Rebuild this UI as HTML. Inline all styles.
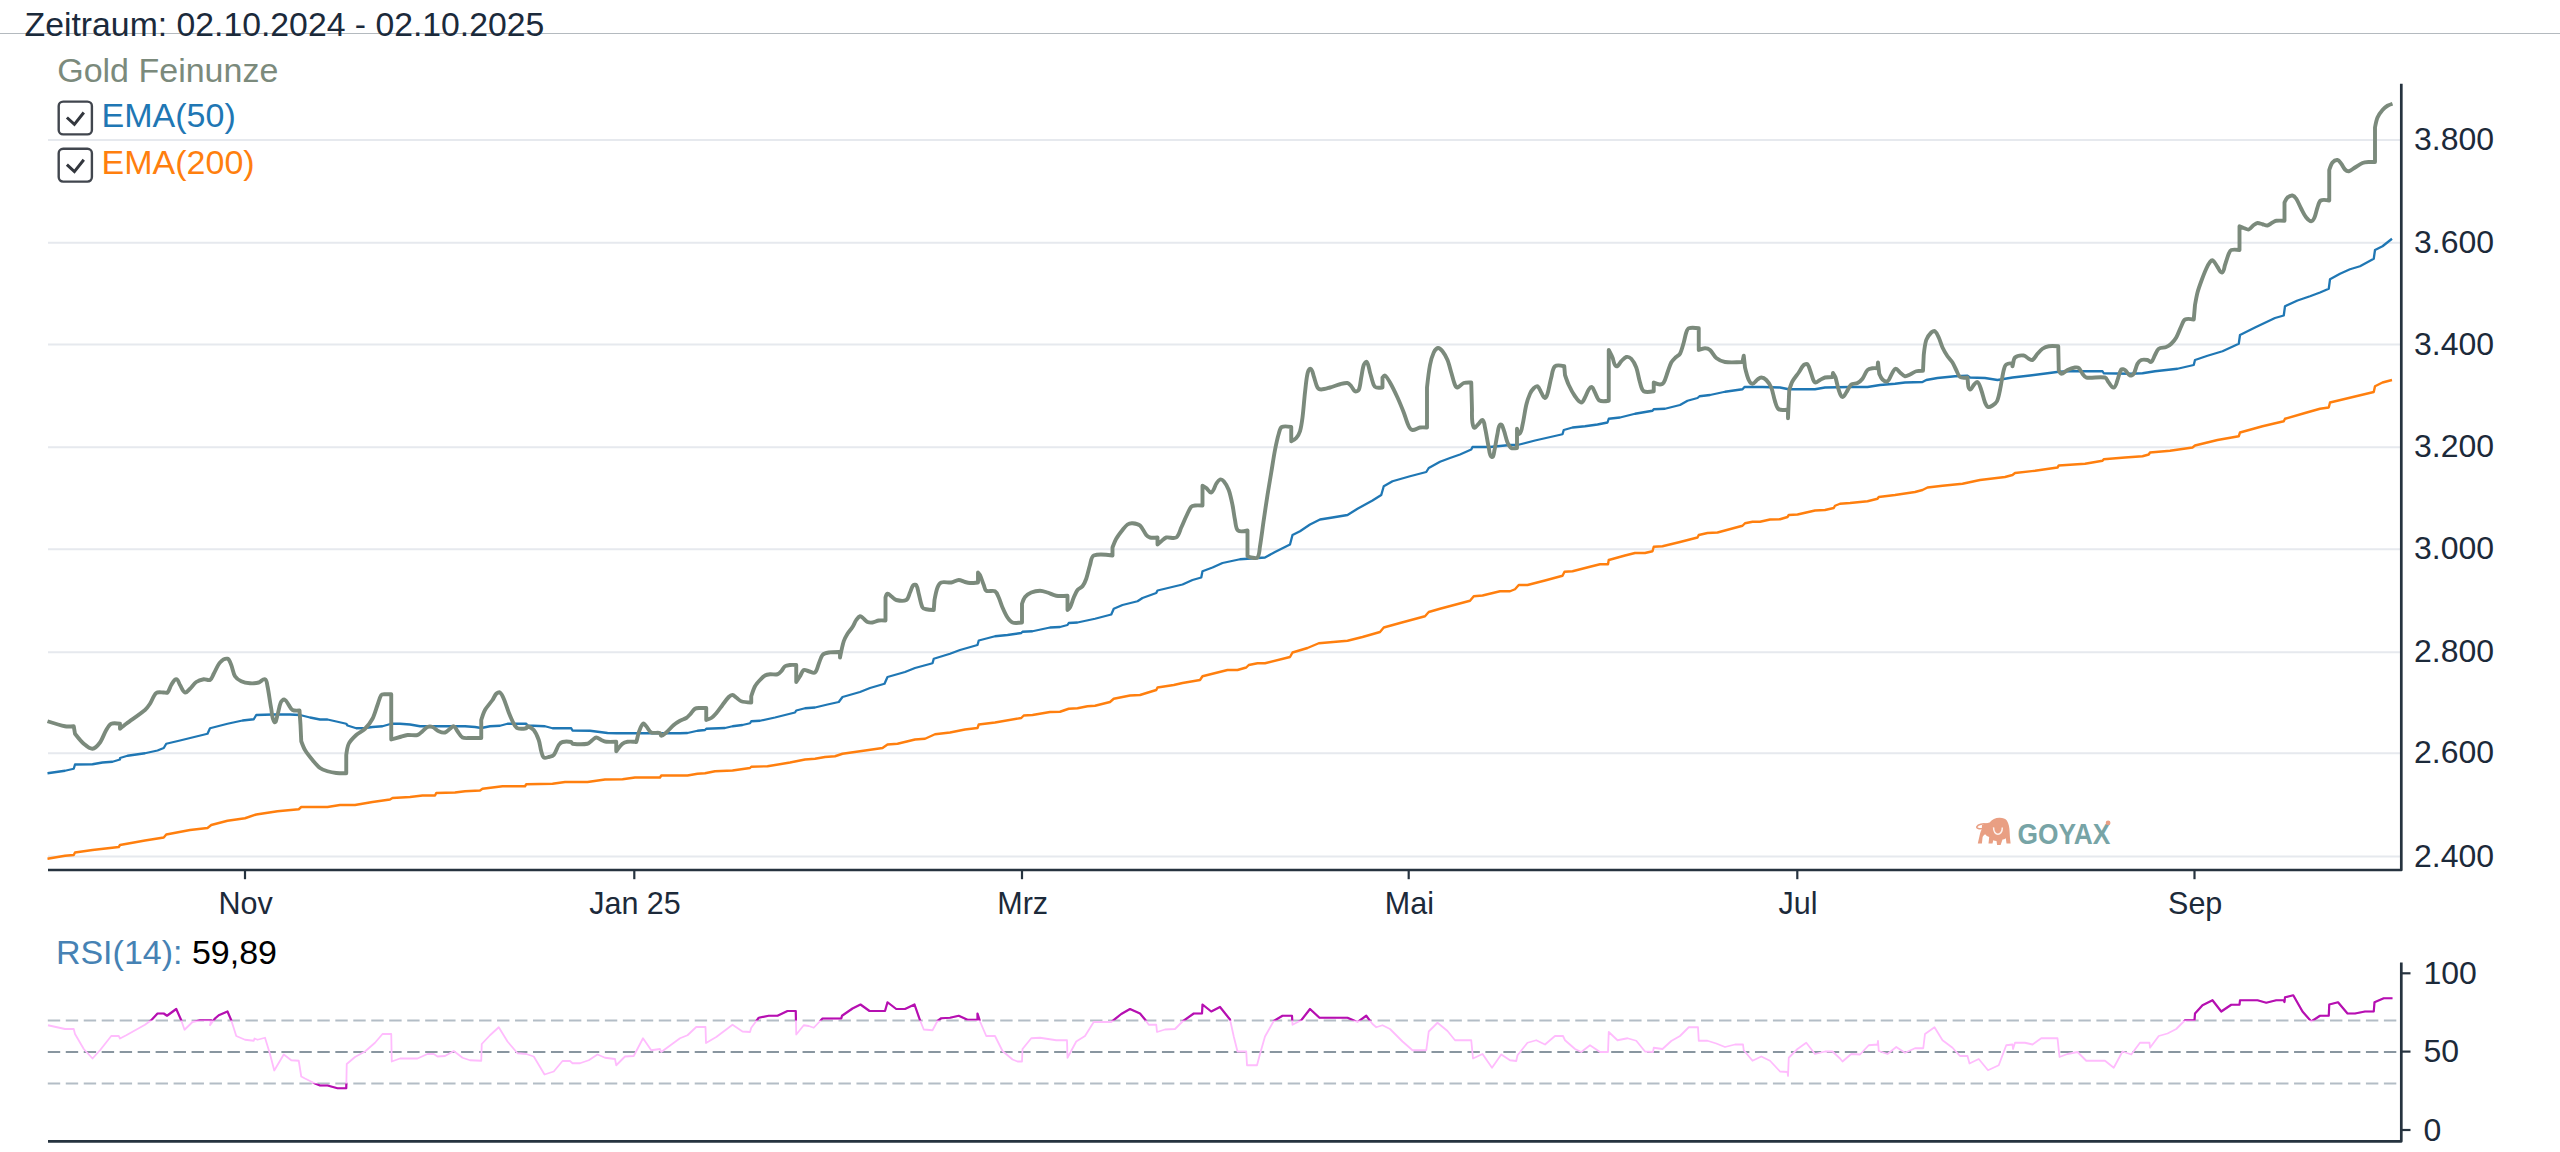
<!DOCTYPE html>
<html lang="de"><head><meta charset="utf-8"><title>Gold Feinunze Chart</title>
<style>
html,body{margin:0;padding:0;background:#fff;}
body{width:2560px;height:1152px;position:relative;overflow:hidden;font-family:"Liberation Sans",sans-serif;}
.t{position:absolute;white-space:nowrap;line-height:1;}
svg text.ax{font-family:"Liberation Sans",sans-serif;font-size:32px;fill:#1c2a3a;}
svg text.h{font-family:"Liberation Sans",sans-serif;font-size:34px;}
#hr{position:absolute;left:0;top:33px;width:2560px;height:1px;background:#b4babf;}
</style></head><body>
<div id="hr"></div>
<svg width="2560" height="1152" viewBox="0 0 2560 1152" style="position:absolute;left:0;top:0">
<defs><clipPath id="hi"><rect x="40" y="940" width="2370" height="80.4"/></clipPath><clipPath id="lo"><rect x="40" y="1083.5" width="2370" height="60"/></clipPath></defs>
<line x1="48" x2="2400" y1="139.9" y2="139.9" stroke="#e6e9ee" stroke-width="2"/>
<line x1="48" x2="2400" y1="242.8" y2="242.8" stroke="#e6e9ee" stroke-width="2"/>
<line x1="48" x2="2400" y1="344.6" y2="344.6" stroke="#e6e9ee" stroke-width="2"/>
<line x1="48" x2="2400" y1="447.3" y2="447.3" stroke="#e6e9ee" stroke-width="2"/>
<line x1="48" x2="2400" y1="549.2" y2="549.2" stroke="#e6e9ee" stroke-width="2"/>
<line x1="48" x2="2400" y1="652.2" y2="652.2" stroke="#e6e9ee" stroke-width="2"/>
<line x1="48" x2="2400" y1="753.3" y2="753.3" stroke="#e6e9ee" stroke-width="2"/>
<line x1="48" x2="2400" y1="856.5" y2="856.5" stroke="#e6e9ee" stroke-width="2"/>
<path d="M47.5,858.75 L65,855.75 L73.75,855 L75,852.5 L92.5,850 L118.75,847 L120,845 L145,840.5 L163.75,837.5 L166.25,834.5 L190,830 L207.5,828 L211.25,825 L227.5,820.75 L245,818.25 L256.25,814.5 L277.5,811.25 L298.75,809.25 L301.25,807 L327.5,807 L340,805 L355,805 L372.5,802 L390,799.5 L392.5,798 L410,797 L422.5,795.5 L435,795.5 L436.25,793 L455,792.5 L465,791.25 L480,790.5 L482.5,788.75 L502.5,786.25 L525,786.25 L526.25,784.25 L552.5,783.75 L565,782 L587.5,782 L605,779.5 L622.5,779.25 L635,777.5 L660,777.5 L661.25,775.5 L687.5,775.5 L697.5,773.75 L705,773.25 L715,771.25 L732.5,770.5 L750,768 L751.25,766.75 L767.5,766.25 L790,762.5 L805,759.5 L815,758.75 L825,757 L835,756.25 L842.5,753.75 L860,751.25 L882.5,748 L887.5,744.5 L897.5,743.75 L915,739.5 L925,738.75 L935,734.25 L950,732.5 L965,729.5 L977.5,728 L978.75,724.5 L995,722.5 L1021.25,718 L1023.75,715.5 L1032.5,715 L1050,712 L1060,711.75 L1068.75,708.75 L1077.5,708.25 L1087.5,706.25 L1095,705.75 L1110,702 L1113.75,698.75 L1130,695.5 L1140,695 L1156.25,690 L1157.5,687.5 L1173.75,685 L1182.5,683 L1200,680 L1202.5,676.25 L1227.5,670 L1237.5,670 L1246.25,667.5 L1248.75,665 L1257.5,663.25 L1265,663.25 L1290,657 L1292.5,652.5 L1307.5,648 L1318.75,643.25 L1347.5,640.75 L1362.5,637 L1380,632 L1383.75,627.5 L1400,623 L1425,616.25 L1428.75,612 L1440,608.75 L1470,600.75 L1473.75,596.25 L1482.5,595.5 L1500,591.25 L1510,591.25 L1515,589.25 L1518.75,585 L1527.5,585 L1545,580.5 L1562.5,575.75 L1564.5,571.75 L1572.5,571.25 L1590,566.75 L1600,564.25 L1608,564.25 L1608.75,560 L1625,555.5 L1635,553 L1645,553 L1652.5,551.25 L1653.75,546.75 L1662.5,546.25 L1680,542 L1697.5,537.5 L1698.75,535 L1707.5,533 L1717.5,532.5 L1742.5,525.75 L1745,523.25 L1752.5,521.75 L1760,521.75 L1770,519.5 L1780,519.25 L1787.5,517 L1788.75,515 L1797.5,514.5 L1815,510.5 L1825,510 L1833.75,508 L1835,505.75 L1840,503.75 L1850,503 L1867.5,501.25 L1877.5,498.75 L1878.75,497 L1895,495 L1915,492 L1922.5,490 L1927.5,487.5 L1942.5,485.75 L1962.5,483.75 L1980,480 L2005,477 L2012.5,475 L2015,473 L2035,470.75 L2057.5,467.5 L2058.75,465.5 L2085,463.75 L2102.5,460.75 L2103.75,459.25 L2125,457.5 L2142.5,456.25 L2148.75,454.5 L2150,452.5 L2170,450.75 L2192.5,447.5 L2195,445.5 L2217.5,440 L2238.75,436.25 L2240,432.5 L2262.5,426.25 L2283.75,421.25 L2285,418.75 L2305,413 L2320,408.75 L2328.75,407.5 L2330,402.5 L2373.75,392 L2375,386.25 L2382.5,382.5 L2392,380" fill="none" stroke="#ff7f0e" stroke-width="2.4" stroke-linejoin="round"/>
<path d="M47.5,773.25 L65,770.75 L73.75,768.75 L75,764.5 L92.5,764.25 L102.5,762.5 L112.5,761.75 L120,759.5 L120,758 L127.5,755.75 L145,753.25 L157.5,750.5 L163.75,748 L166.25,743.75 L180,740.5 L207.5,733.75 L210,728.25 L227.5,723.75 L242.5,720.5 L253.75,719.25 L256.25,715 L272.5,714.5 L290,714.5 L300,715 L310,717.5 L320,719.5 L327.5,719.5 L337.5,721.75 L346.25,723.75 L347.5,725.5 L356.25,728.25 L365,728 L372.5,727 L382.5,726.25 L391.25,723.75 L400,723.75 L410,724.5 L420,726.25 L440,726.25 L465,726.25 L475,727 L481.25,728 L490,726.25 L500,725.75 L507.5,723.75 L526.25,723.75 L527.5,725.5 L545,726.25 L552.5,728.25 L571.25,728.25 L572.5,730.5 L590,730.75 L607.5,733 L616.25,733.25 L635,733.25 L660,733.25 L680,733.25 L687.5,733 L697.5,730.75 L705,730 L706.25,728.75 L725,728 L732.5,726.25 L742.5,725 L750,723.25 L751.25,721.25 L760,720.75 L775,717.5 L795,712.5 L796.25,710.5 L805,708.25 L815,707.5 L827.5,704.5 L838.75,702 L842.5,697 L860,692 L870,688 L884.5,683.75 L887.5,677 L905,672 L915,668 L932.5,663.25 L933.75,658.75 L950,653.75 L960,650 L977.5,645 L978.75,640.5 L995,636.25 L1007.5,635 L1021.25,633 L1022.5,631.75 L1032.5,631.25 L1050,627.5 L1060,627 L1067.5,625 L1068.75,623 L1077.5,622.5 L1095,618.75 L1111.25,614.5 L1113.75,608.75 L1122.5,605 L1137.5,601.25 L1142.5,598 L1156.25,593 L1157.5,590.5 L1182.5,584.5 L1192.5,580 L1201.25,577.5 L1202.5,571.25 L1212.5,567.5 L1222.5,563 L1240,559.25 L1247.5,558.75 L1265,557.5 L1275,552 L1290,544.5 L1292.5,535 L1300,531.25 L1310,524.5 L1320,519.5 L1332.5,517.5 L1347.5,515 L1357.5,508.75 L1372.5,500.5 L1381.25,495 L1383.75,486.25 L1392.5,481.25 L1410,476.25 L1426.25,472 L1428.75,468 L1440,461.75 L1450,458 L1460,454.5 L1471.25,449.5 L1472.5,447 L1490,447 L1510,445 L1517.5,445 L1535,440.5 L1562.5,434.25 L1563.75,430 L1572.5,427.5 L1585,426.25 L1597.5,424.5 L1607.5,422.5 L1608.75,418.75 L1620,417.5 L1635,413.75 L1652.5,410.75 L1653.75,409.25 L1665,408.75 L1680,405 L1687.5,400.75 L1697.5,398 L1699.5,396.25 L1710,395 L1725,391.75 L1742.5,389.25 L1744.5,387 L1762.5,387 L1780,387.5 L1788.75,389.25 L1815,389.25 L1825,387.5 L1850,387 L1867.5,387 L1880,385 L1895,383.75 L1905,382.5 L1922.5,382 L1926.25,380 L1937.5,378 L1955,376.25 L1967.5,375.75 L1970,377.5 L1985,378 L1997.5,380 L2012.5,377.5 L2030,375.5 L2047.5,373.25 L2058.75,371.75 L2070,371.25 L2102.5,371.25 L2103.75,373.25 L2130,373.75 L2142.5,373.25 L2155,371.25 L2177.5,368.75 L2193.75,365 L2195,360 L2207.5,355.75 L2222.5,351.25 L2238.75,343.75 L2240,335 L2255,327.5 L2275,318 L2283.75,315.5 L2285,306.25 L2297.5,300.5 L2310,296.25 L2320,292.5 L2328.75,288.75 L2330,279.25 L2340,273.75 L2350,269.25 L2360,266.25 L2373.75,258.75 L2375,250 L2382.5,246.25 L2392,238.75" fill="none" stroke="#1f77b4" stroke-width="2.3" stroke-linejoin="round"/>
<path d="M47.5,721.25 C47.50,721.25 59.93,725.29 65,726.25 C67.44,726.71 73.75,726.25 73.75,726.25 C73.75,726.25 75.00,733.75 75,733.75 C75.00,733.75 80.89,741.30 83.75,743.75 C85.92,745.61 89.65,748.97 92.5,748.75 C95.26,748.54 98.36,744.73 100,742.5 C102.34,739.31 104.21,733.40 106.25,730 C107.42,728.06 109.19,724.69 111.25,723.75 C113.51,722.72 120.00,723.75 120,723.75 C120.00,723.75 120.00,728.75 120,728.75 C120.00,728.75 124.44,725.11 126.25,723.75 C131.52,719.80 139.96,714.24 145,710 C146.73,708.54 148.75,705.64 150,703.75 C151.94,700.81 153.52,695.23 156.25,693 C157.90,691.65 161.62,692.59 163.75,692.5 C164.81,692.45 166.75,693.25 167.5,692.5 C169.18,690.82 169.94,686.98 171.25,685 C172.44,683.20 174.09,679.25 176.25,679.25 C178.20,679.25 178.93,683.38 180,685 C181.41,687.13 182.61,691.60 185,692.5 C186.66,693.12 188.71,689.96 190,688.75 C191.91,686.97 194.11,683.48 196.25,682 C198.11,680.71 201.51,679.58 203.75,679.25 C205.51,678.99 208.44,680.86 210,680 C211.81,679.00 212.73,675.54 213.75,673.75 C215.56,670.58 217.54,665.19 220,662.5 C221.61,660.75 225.18,658.23 227.5,658.75 C229.52,659.20 230.44,663.10 231.25,665 C232.57,668.09 233.24,673.39 235,676.25 C236.19,678.18 239.19,680.29 241.25,681.25 C243.55,682.33 247.46,683.07 250,683.25 C252.48,683.43 256.35,683.14 258.75,682.5 C260.68,681.99 263.17,678.46 265,679.25 C266.94,680.08 267.06,684.19 267.5,686.25 C268.84,692.57 270.01,702.41 271.25,708.75 C271.99,712.54 271.77,719.27 274.5,722 C276.03,723.53 276.84,717.05 277.5,715 C278.62,711.52 279.24,705.84 280.75,702.5 C281.31,701.26 283.20,699.09 284.5,699.5 C286.38,700.09 287.56,703.43 288.75,705 C289.82,706.41 290.92,709.19 292.5,710 C294.27,710.91 299.50,710.50 299.5,710.5 C299.50,710.50 300.50,725.00 300.5,725 C300.50,725.00 301.25,741.25 301.25,741.25 C301.25,741.25 303.61,747.69 305,750 C306.82,753.04 310.23,757.28 312.5,760 C314.49,762.39 317.51,766.14 320,768 C321.85,769.39 325.29,770.57 327.5,771.25 C329.92,771.99 333.74,772.73 336.25,773 C339.07,773.30 346.25,773.25 346.25,773.25 C346.25,773.25 346.25,755.00 346.25,755 C346.25,755.00 347.29,746.67 348.75,743.75 C350.21,740.83 353.85,737.21 356.25,735 C358.49,732.93 362.85,730.90 365,728.75 C367.50,726.25 370.85,721.88 372.5,718.75 C374.43,715.08 376.07,708.89 377.5,705 C378.55,702.16 379.52,697.48 381.25,695 C381.87,694.11 383.92,694.33 385,694.25 C386.77,694.12 391.25,694.25 391.25,694.25 C391.25,694.25 391.25,739.50 391.25,739.5 C391.25,739.50 397.52,737.69 400,737 C402.12,736.41 405.31,735.25 407.5,735 C410.32,734.68 414.75,735.69 417.5,735 C419.22,734.57 421.12,732.36 422.5,731.25 C423.95,730.09 425.79,727.73 427.5,727 C428.80,726.45 431.17,726.50 432.5,727 C434.50,727.76 436.79,730.39 438.75,731.25 C440.40,731.98 443.24,732.89 445,732.5 C446.73,732.12 448.56,729.78 450,728.75 C451.04,728.01 452.54,725.85 453.75,726.25 C455.43,726.81 456.41,729.85 457.5,731.25 C458.89,733.04 460.50,736.42 462.5,737.5 C464.37,738.51 467.87,737.94 470,738 C473.19,738.08 481.25,738.00 481.25,738 C481.25,738.00 481.25,720.00 481.25,720 C481.25,720.00 483.52,712.64 485,710 C486.74,706.91 490.48,702.91 492.5,700 C493.68,698.30 494.79,695.21 496.25,693.75 C497.04,692.96 499.07,691.88 500,692.5 C501.72,693.65 502.92,696.86 503.75,698.75 C505.41,702.55 507.21,708.65 508.75,712.5 C510.05,715.74 512.06,720.70 513.75,723.75 C514.56,725.20 515.94,727.69 517.5,728.25 C519.83,729.09 523.82,728.74 526.25,728.25 C526.91,728.12 526.85,726.10 527.5,726.25 C529.51,726.72 532.44,728.40 533.75,730 C535.76,732.45 537.70,737.01 538.75,740 C539.84,743.08 540.35,748.11 541.25,751.25 C541.77,753.08 542.24,756.34 543.75,757.5 C544.88,758.37 547.37,757.35 548.75,757 C550.23,756.63 552.77,756.17 553.75,755 C555.78,752.57 556.98,747.63 558.75,745 C559.51,743.87 561.18,742.32 562.5,742 C564.91,741.42 568.81,741.57 571.25,742 C571.85,742.11 571.89,743.68 572.5,743.75 C576.73,744.21 583.32,744.53 587.5,743.75 C589.24,743.42 591.06,741.03 592.5,740 C593.54,739.26 594.97,737.50 596.25,737.5 C597.83,737.50 599.79,739.38 601.25,740 C602.63,740.59 604.76,741.58 606.25,741.75 C609.06,742.08 616.25,741.75 616.25,741.75 C616.25,741.75 616.25,751.25 616.25,751.25 C616.25,751.25 620.39,745.53 622.5,743.75 C623.67,742.77 625.99,741.99 627.5,741.75 C629.60,741.41 632.88,741.69 635,741.75 C635.36,741.76 636.11,742.33 636.25,742 C637.30,739.42 637.78,735.11 638.75,732.5 C639.71,729.92 640.88,725.51 643,723.75 C643.89,723.01 645.45,725.40 646.25,726.25 C647.81,727.90 649.21,731.50 651.25,732.5 C653.48,733.59 657.64,732.23 660,733 C660.81,733.26 660.40,735.82 661.25,735.75 C662.93,735.62 664.97,733.60 666.25,732.5 C668.53,730.54 671.47,726.95 673.75,725 C675.38,723.61 678.13,721.80 680,720.75 C681.69,719.80 684.61,719.03 686.25,718 C687.48,717.23 689.00,715.56 690,714.5 C691.48,712.93 693.19,709.93 695,708.75 C696.20,707.97 698.57,708.10 700,708 C701.77,707.88 706.25,708.00 706.25,708 C706.25,708.00 706.25,720.00 706.25,720 C706.25,720.00 709.99,718.85 711.25,718 C712.87,716.91 714.97,714.73 716.25,713.25 C718.17,711.03 720.71,707.32 722.5,705 C724.25,702.72 726.72,699.03 728.75,697 C729.60,696.15 731.30,694.92 732.5,695 C733.77,695.08 735.21,696.76 736.25,697.5 C737.69,698.53 739.57,700.69 741.25,701.25 C743.96,702.15 751.25,702.50 751.25,702.5 C751.25,702.50 751.25,696.25 751.25,696.25 C751.25,696.25 753.57,688.91 755,686.25 C756.08,684.25 758.46,681.66 760,680 C761.30,678.60 763.35,676.45 765,675.5 C766.27,674.77 768.55,674.40 770,674.25 C772.11,674.04 775.45,674.80 777.5,674.25 C778.81,673.90 780.32,672.24 781.25,671.25 C782.46,669.96 783.56,667.28 785,666.25 C786.19,665.40 788.55,665.16 790,665 C791.76,664.80 796.25,665.00 796.25,665 C796.25,665.00 796.25,682.00 796.25,682 C796.25,682.00 798.97,677.90 800,676.25 C801.09,674.50 801.96,671.02 803.75,670 C805.02,669.28 807.32,670.93 808.75,671.25 C810.51,671.64 813.56,673.58 815,672.5 C817.16,670.88 817.69,666.23 818.75,663.75 C819.81,661.27 820.71,657.02 822.5,655 C823.77,653.57 826.87,652.82 828.75,652.5 C831.89,651.96 840.00,652.00 840,652 C840.00,652.00 840.00,657.50 840,657.5 C840.00,657.50 842.33,645.76 843.75,641.25 C844.47,638.98 846.26,635.77 847.5,633.75 C848.75,631.72 851.22,629.01 852.5,627 C853.71,625.10 854.96,621.85 856.25,620 C857.11,618.77 858.52,616.50 860,616.25 C861.26,616.04 862.74,617.97 863.75,618.75 C864.87,619.61 866.21,621.45 867.5,622 C868.81,622.56 871.09,622.69 872.5,622.5 C874.34,622.25 876.91,620.78 878.75,620.5 C880.64,620.21 885.50,620.50 885.5,620.5 C885.50,620.50 885.50,597.50 885.5,597.5 C885.50,597.50 886.32,594.01 887.5,593.75 C888.75,593.48 890.21,595.51 891.25,596.25 C892.69,597.28 894.53,599.57 896.25,600 C899.00,600.69 903.76,601.36 906.25,600 C908.34,598.86 909.00,594.65 910,592.5 C910.91,590.54 911.62,587.16 913,585.5 C913.60,584.78 915.72,584.24 916.25,585 C917.72,587.12 918.06,591.27 918.75,593.75 C919.83,597.64 920.74,603.87 922.5,607.5 C923.01,608.56 925.11,609.00 926.25,609.25 C928.33,609.71 933.75,610.00 933.75,610 C933.75,610.00 934.50,600.00 934.5,600 C934.50,600.00 936.19,590.90 937.5,587.5 C938.14,585.85 939.59,583.11 941.25,582.5 C943.91,581.53 948.45,582.90 951.25,582.5 C953.47,582.18 956.51,580.08 958.75,580 C960.61,579.93 963.20,581.52 965,582 C966.40,582.37 968.56,582.94 970,583 C972.27,583.09 978.00,582.50 978,582.5 C978.00,582.50 978.00,572.50 978,572.5 C978.00,572.50 979.62,574.18 980,575 C981.26,577.75 982.63,582.19 983.75,585 C984.41,586.65 984.70,589.89 986.25,590.75 C988.42,591.96 992.82,590.07 995,591.25 C996.82,592.23 997.88,595.62 998.75,597.5 C1000.02,600.25 1001.29,604.73 1002.5,607.5 C1003.77,610.40 1005.74,614.86 1007.5,617.5 C1008.61,619.17 1010.61,621.85 1012.5,622.5 C1015.04,623.38 1022.00,622.50 1022,622.5 C1022.00,622.50 1022.00,603.75 1022,603.75 C1022.00,603.75 1023.67,598.62 1025,597 C1026.39,595.31 1029.24,593.34 1031.25,592.5 C1033.58,591.53 1037.47,590.75 1040,590.75 C1042.18,590.75 1045.41,591.86 1047.5,592.5 C1050.03,593.28 1053.64,595.33 1056.25,595.75 C1059.40,596.26 1067.50,595.75 1067.5,595.75 C1067.50,595.75 1067.50,610.00 1067.5,610 C1067.50,610.00 1069.55,608.40 1070,607.5 C1071.35,604.79 1072.56,600.28 1073.75,597.5 C1074.69,595.32 1076.04,591.88 1077.5,590 C1078.59,588.60 1081.41,587.65 1082.5,586.25 C1083.96,584.37 1085.46,580.99 1086.25,578.75 C1087.59,574.94 1088.76,568.84 1090,565 C1090.89,562.25 1091.08,556.63 1093.75,555.5 C1098.64,553.43 1112.50,555.50 1112.5,555.5 C1112.50,555.50 1112.50,547.50 1112.5,547.5 C1112.50,547.50 1114.91,541.09 1116.25,538.75 C1117.76,536.10 1120.61,532.39 1122.5,530 C1123.80,528.35 1125.75,525.68 1127.5,524.5 C1128.71,523.68 1131.04,523.13 1132.5,523.25 C1134.71,523.43 1138.31,524.06 1140,525.5 C1142.45,527.59 1144.19,532.52 1146.25,535 C1147.07,535.98 1148.75,537.22 1150,537.5 C1152.07,537.96 1157.50,537.50 1157.5,537.5 C1157.50,537.50 1157.50,544.50 1157.5,544.5 C1157.50,544.50 1160.15,542.13 1161.25,541.25 C1162.63,540.14 1164.53,537.93 1166.25,537.5 C1169.00,536.81 1173.89,539.07 1176.25,537.5 C1178.89,535.74 1179.90,530.37 1181.25,527.5 C1182.74,524.34 1184.74,519.39 1186.25,516.25 C1187.57,513.51 1189.33,509.11 1191.25,506.75 C1191.96,505.88 1193.89,505.62 1195,505.5 C1197.11,505.27 1202.50,505.50 1202.5,505.5 C1202.50,505.50 1202.50,485.75 1202.5,485.75 C1202.50,485.75 1205.27,487.24 1206.25,488 C1207.76,489.16 1209.50,493.25 1211.25,492.5 C1213.88,491.38 1214.66,486.12 1216.25,483.75 C1217.15,482.42 1218.48,480.01 1220,479.5 C1221.11,479.13 1223.00,480.35 1223.75,481.25 C1225.58,483.44 1227.76,487.32 1228.75,490 C1230.26,494.11 1231.61,500.71 1232.5,505 C1233.38,509.22 1234.09,515.79 1235,520 C1235.65,523.02 1235.63,528.51 1238,530.5 C1240.06,532.23 1247.50,530.50 1247.5,530.5 C1247.50,530.50 1247.50,556.25 1247.5,556.25 C1247.50,556.25 1250.14,557.36 1251.25,557.5 C1253.01,557.72 1256.41,558.90 1257.5,557.5 C1259.50,554.92 1259.46,549.47 1260,546.25 C1261.24,538.84 1262.66,527.43 1263.75,520 C1264.79,512.91 1266.38,502.07 1267.5,495 C1268.51,488.62 1270.19,478.88 1271.25,472.5 C1272.31,466.12 1273.77,456.35 1275,450 C1275.90,445.36 1277.42,438.28 1278.75,433.75 C1279.34,431.74 1279.91,427.99 1281.75,427 C1284.12,425.72 1291.25,427.00 1291.25,427 C1291.25,427.00 1291.25,441.25 1291.25,441.25 C1291.25,441.25 1295.14,439.27 1296.25,438 C1297.69,436.35 1299.36,433.34 1300,431.25 C1301.15,427.46 1301.99,421.43 1302.5,417.5 C1303.41,410.44 1304.19,399.57 1305,392.5 C1305.61,387.18 1306.29,378.97 1307.5,373.75 C1307.87,372.14 1308.97,368.14 1310.5,368.75 C1312.65,369.61 1312.94,374.08 1313.75,376.25 C1314.93,379.40 1315.84,384.58 1317.5,387.5 C1318.09,388.55 1320.05,389.50 1321.25,389.5 C1323.79,389.50 1327.55,388.19 1330,387.5 C1332.87,386.70 1337.11,384.99 1340,384.25 C1342.09,383.71 1345.38,382.62 1347.5,383 C1348.88,383.25 1350.30,385.21 1351.25,386.25 C1352.44,387.56 1353.42,390.46 1355,391.25 C1356.00,391.75 1358.29,391.02 1358.75,390 C1360.24,386.71 1360.54,381.04 1361.25,377.5 C1361.96,373.96 1362.54,368.40 1363.75,365 C1364.15,363.87 1365.98,361.08 1366.75,362 C1368.74,364.39 1369.09,369.52 1370,372.5 C1371.08,376.04 1372.33,381.59 1373.75,385 C1374.14,385.92 1375.29,387.22 1376.25,387.5 C1377.95,387.99 1382.50,387.50 1382.5,387.5 C1382.50,387.50 1382.50,377.50 1382.5,377.5 C1382.50,377.50 1384.25,375.00 1385,375.5 C1387.03,376.85 1388.80,380.38 1390,382.5 C1392.35,386.63 1395.52,393.18 1397.5,397.5 C1399.42,401.69 1402.07,408.21 1403.75,412.5 C1405.26,416.36 1406.90,422.54 1408.75,426.25 C1409.42,427.59 1411.01,429.83 1412.5,430 C1414.73,430.25 1417.79,427.88 1420,427.5 C1421.95,427.16 1427.00,427.50 1427,427.5 C1427.00,427.50 1427.00,387.50 1427,387.5 C1427.00,387.50 1428.78,371.32 1430,365 C1430.70,361.37 1432.18,355.85 1433.75,352.5 C1434.50,350.91 1436.26,348.25 1438,348 C1439.56,347.78 1441.52,350.02 1442.5,351.25 C1444.27,353.49 1446.41,357.36 1447.5,360 C1448.91,363.42 1450.19,368.96 1451.25,372.5 C1452.31,376.04 1453.58,381.59 1455,385 C1455.39,385.92 1456.52,387.72 1457.5,387.5 C1459.63,387.01 1461.70,383.75 1463.75,383 C1465.75,382.27 1471.25,382.50 1471.25,382.5 C1471.25,382.50 1472.00,410.00 1472,410 C1472.00,410.00 1471.55,423.03 1473.75,427.5 C1474.53,429.09 1477.41,424.90 1478.75,423.75 C1479.89,422.77 1481.21,419.23 1482.5,420 C1484.42,421.15 1484.50,425.32 1485,427.5 C1486.28,433.12 1487.46,441.88 1488.75,447.5 C1489.38,450.25 1489.16,455.87 1491.75,457 C1493.70,457.85 1493.99,452.07 1494.5,450 C1495.62,445.45 1496.43,438.31 1497.5,433.75 C1498.13,431.07 1498.14,425.92 1500.5,424.5 C1502.05,423.57 1503.09,428.31 1503.75,430 C1505.09,433.45 1506.08,439.09 1507.5,442.5 C1508.23,444.24 1509.62,447.06 1511.25,448 C1512.66,448.82 1517.00,448.00 1517,448 C1517.00,448.00 1517.00,428.75 1517,428.75 C1517.00,428.75 1518.19,434.64 1519.5,433.75 C1521.67,432.27 1521.90,427.55 1522.5,425 C1523.82,419.39 1524.90,410.61 1526.25,405 C1527.03,401.73 1528.63,396.82 1530,393.75 C1530.77,392.03 1532.42,389.58 1533.75,388.25 C1534.60,387.40 1536.45,385.66 1537.5,386.25 C1539.30,387.27 1540.14,390.76 1541.25,392.5 C1542.26,394.09 1543.15,397.63 1545,398 C1546.37,398.27 1547.09,395.09 1547.5,393.75 C1548.88,389.23 1550.01,382.06 1551.25,377.5 C1552.13,374.26 1552.46,368.45 1555,366.25 C1556.98,364.53 1564.25,366.25 1564.25,366.25 C1564.25,366.25 1565.00,375.00 1565,375 C1565.00,375.00 1567.46,382.26 1568.75,385 C1570.30,388.30 1572.88,393.28 1575,396.25 C1576.46,398.29 1578.77,402.19 1581.25,402.5 C1583.01,402.72 1584.12,399.03 1585,397.5 C1586.25,395.33 1587.40,391.61 1588.75,389.5 C1589.35,388.57 1590.75,386.52 1591.75,387 C1593.38,387.78 1594.10,390.93 1595,392.5 C1596.29,394.76 1597.27,399.16 1599.5,400.5 C1601.75,401.85 1608.75,400.75 1608.75,400.75 C1608.75,400.75 1608.75,350.00 1608.75,350 C1608.75,350.00 1611.50,355.34 1612.5,357.5 C1613.63,359.95 1613.77,365.19 1616.25,366.25 C1618.09,367.04 1619.78,362.61 1621.25,361.25 C1622.61,359.99 1624.45,357.45 1626.25,357 C1627.71,356.64 1630.21,357.66 1631.25,358.75 C1633.22,360.82 1635.26,364.82 1636.25,367.5 C1637.76,371.61 1638.68,378.32 1640,382.5 C1640.81,385.07 1641.47,389.80 1643.75,391.25 C1646.14,392.77 1653.75,391.25 1653.75,391.25 C1653.75,391.25 1653.75,382.50 1653.75,382.5 C1653.75,382.50 1658.14,384.50 1660,384.5 C1661.20,384.50 1663.11,383.52 1663.75,382.5 C1665.35,379.93 1666.44,375.33 1667.5,372.5 C1668.56,369.67 1669.83,365.17 1671.25,362.5 C1672.12,360.86 1674.19,358.81 1675.5,357.5 C1676.67,356.33 1679.20,355.20 1680,353.75 C1681.62,350.81 1682.80,345.72 1683.75,342.5 C1684.57,339.70 1685.28,335.26 1686.25,332.5 C1686.71,331.18 1687.43,328.70 1688.75,328.25 C1691.43,327.34 1698.75,328.25 1698.75,328.25 C1698.75,328.25 1698.75,350.00 1698.75,350 C1698.75,350.00 1703.16,348.25 1705,348.25 C1706.50,348.25 1708.87,349.02 1710,350 C1712.17,351.88 1714.00,356.20 1716.25,358 C1718.38,359.70 1722.31,361.59 1725,362 C1729.90,362.75 1742.50,362.00 1742.5,362 C1742.50,362.00 1743.75,355.75 1743.75,355.75 C1743.75,355.75 1745.00,367.50 1745,367.5 C1745.00,367.50 1747.20,376.64 1748.75,380 C1749.38,381.36 1751.00,383.84 1752.5,383.75 C1754.36,383.64 1755.99,380.58 1757.5,379.5 C1758.48,378.80 1760.05,377.43 1761.25,377.5 C1762.83,377.59 1765.13,378.88 1766.25,380 C1768.06,381.81 1770.28,385.14 1771.25,387.5 C1772.79,391.23 1773.68,397.43 1775,401.25 C1775.82,403.62 1776.64,407.91 1778.75,409.25 C1780.96,410.65 1788.00,409.50 1788,409.5 C1788.00,409.50 1788.00,418.25 1788,418.25 C1788.00,418.25 1789.25,390.00 1789.25,390 C1789.25,390.00 1791.24,383.57 1792.5,381.25 C1793.95,378.57 1797.02,375.00 1798.75,372.5 C1800.20,370.40 1801.89,366.75 1803.75,365 C1804.54,364.26 1806.79,363.43 1807.5,364.25 C1809.38,366.45 1810.15,371.07 1811.25,373.75 C1812.28,376.24 1812.81,380.93 1815,382.5 C1816.29,383.42 1818.58,380.71 1820,380 C1821.42,379.29 1823.46,377.87 1825,377.5 C1827.07,377.00 1832.50,377.00 1832.5,377 C1832.50,377.00 1833.00,373.00 1833,373 C1833.00,373.00 1835.03,376.12 1835.5,377.5 C1836.67,380.97 1837.51,386.56 1838.75,390 C1839.51,392.12 1840.37,396.29 1842.5,397 C1844.07,397.52 1845.30,393.86 1846.25,392.5 C1847.78,390.31 1849.21,386.22 1851.25,384.5 C1852.64,383.33 1855.88,383.83 1857.5,383 C1859.16,382.15 1861.37,380.22 1862.5,378.75 C1864.24,376.49 1865.53,372.07 1867.5,370 C1868.54,368.91 1871.02,368.51 1872.5,368.25 C1873.90,368.01 1877.50,368.25 1877.5,368.25 C1877.50,368.25 1878.00,362.50 1878,362.5 C1878.00,362.50 1879.25,373.75 1879.25,373.75 C1879.25,373.75 1881.12,378.24 1882.5,379.5 C1883.61,380.51 1886.17,381.94 1887.5,381.25 C1889.34,380.31 1890.14,376.74 1891.25,375 C1892.40,373.20 1893.44,369.34 1895.5,368.75 C1897.10,368.29 1898.70,371.47 1900,372.5 C1901.39,373.60 1903.26,375.90 1905,376.25 C1906.47,376.54 1908.63,375.11 1910,374.5 C1911.82,373.69 1914.33,371.80 1916.25,371.25 C1918.09,370.72 1923.00,370.75 1923,370.75 C1923.00,370.75 1923.75,355.00 1923.75,355 C1923.75,355.00 1924.89,344.09 1926.25,340 C1927.06,337.58 1929.44,334.31 1931.25,332.5 C1932.04,331.71 1934.07,330.63 1935,331.25 C1936.72,332.40 1937.88,335.62 1938.75,337.5 C1940.02,340.25 1941.22,344.76 1942.5,347.5 C1943.71,350.09 1945.92,353.87 1947.5,356.25 C1948.76,358.14 1951.28,360.59 1952.5,362.5 C1953.78,364.50 1955.16,367.89 1956.25,370 C1957.28,372.00 1958.13,375.75 1960,377 C1961.77,378.18 1967.50,377.50 1967.5,377.5 C1967.50,377.50 1968.00,383.75 1968,383.75 C1968.00,383.75 1968.31,389.13 1970,389.5 C1971.62,389.85 1972.58,386.17 1973.75,385 C1974.71,384.04 1976.37,381.25 1977.5,382 C1979.58,383.39 1980.39,387.65 1981.25,390 C1982.52,393.47 1983.64,399.06 1985,402.5 C1985.57,403.92 1986.58,406.43 1988,407 C1989.25,407.50 1991.37,406.22 1992.5,405.5 C1993.98,404.56 1996.24,402.83 1997,401.25 C1998.44,398.28 1999.30,393.22 2000,390 C2001.22,384.36 2002.38,375.60 2003.75,370 C2004.16,368.34 2004.86,365.49 2006.25,364.5 C2007.70,363.46 2010.78,363.27 2012.5,363.75 C2013.18,363.94 2012.24,366.91 2012.5,366.25 C2013.46,363.86 2013.14,359.28 2015,357.5 C2016.84,355.74 2021.22,355.27 2023.75,355.5 C2025.43,355.65 2027.25,357.98 2028.75,358.75 C2029.75,359.26 2031.53,360.56 2032.5,360 C2034.47,358.87 2035.99,355.44 2037.5,353.75 C2038.83,352.25 2040.83,349.86 2042.5,348.75 C2044.09,347.69 2046.87,346.55 2048.75,346.25 C2051.41,345.83 2058.25,346.25 2058.25,346.25 C2058.25,346.25 2058.75,370.00 2058.75,370 C2058.75,370.00 2059.97,373.75 2061.25,373.75 C2063.32,373.75 2065.62,370.85 2067.5,370 C2069.54,369.07 2072.79,367.89 2075,367.5 C2076.06,367.31 2077.93,367.31 2078.75,368 C2080.24,369.25 2081.29,372.22 2082.5,373.75 C2083.43,374.93 2084.77,377.25 2086.25,377.5 C2091.49,378.37 2099.81,376.35 2105,377.5 C2106.73,377.88 2107.58,381.17 2108.75,382.5 C2110.07,384.01 2111.82,388.05 2113.75,387.5 C2116.03,386.85 2116.59,382.19 2117.5,380 C2118.72,377.08 2119.35,372.03 2121.25,369.5 C2121.89,368.64 2124.12,369.39 2125,370 C2126.74,371.19 2128.06,374.67 2130,375.5 C2131.08,375.96 2133.12,374.74 2133.75,373.75 C2135.38,371.20 2136.05,366.41 2137.5,363.75 C2138.22,362.43 2139.84,360.53 2141.25,360 C2142.91,359.38 2145.76,359.65 2147.5,360 C2148.68,360.24 2150.25,362.67 2151.25,362 C2153.12,360.75 2153.89,356.96 2155,355 C2156.02,353.20 2157.07,349.95 2158.75,348.75 C2160.53,347.49 2164.22,347.81 2166.25,347 C2167.82,346.37 2170.03,344.91 2171.25,343.75 C2172.89,342.19 2175.12,339.47 2176.25,337.5 C2177.98,334.47 2179.73,329.39 2181.25,326.25 C2182.21,324.28 2183.07,320.54 2185,319.5 C2187.18,318.32 2193.75,319.50 2193.75,319.5 C2193.75,319.50 2195.00,305.00 2195,305 C2195.00,305.00 2196.58,295.99 2197.5,292.5 C2198.36,289.25 2200.09,284.40 2201.25,281.25 C2202.57,277.67 2204.67,272.22 2206.25,268.75 C2207.16,266.76 2208.61,263.69 2210,262 C2210.60,261.26 2212.21,259.97 2213,260.5 C2214.86,261.74 2216.16,265.21 2217.5,267 C2218.71,268.61 2220.05,273.02 2222,272.5 C2224.21,271.91 2224.22,267.15 2225,265 C2226.14,261.84 2227.46,256.85 2228.75,253.75 C2229.24,252.57 2230.04,250.42 2231.25,250 C2233.46,249.23 2239.50,250.00 2239.5,250 C2239.50,250.00 2239.50,226.25 2239.5,226.25 C2239.50,226.25 2242.52,227.57 2243.75,228 C2245.15,228.49 2247.33,229.93 2248.75,229.5 C2250.58,228.95 2252.22,226.14 2253.75,225 C2254.72,224.28 2256.30,223.10 2257.5,223 C2258.95,222.88 2261.08,223.90 2262.5,224.25 C2263.92,224.60 2266.06,225.75 2267.5,225.5 C2269.13,225.22 2271.05,223.29 2272.5,222.5 C2273.53,221.94 2275.09,220.92 2276.25,220.75 C2278.56,220.41 2284.50,220.75 2284.5,220.75 C2284.50,220.75 2284.50,202.50 2284.5,202.5 C2284.50,202.50 2286.26,198.59 2287.5,197.5 C2288.65,196.50 2290.99,195.28 2292.5,195.5 C2293.89,195.70 2295.48,197.58 2296.25,198.75 C2298.00,201.39 2299.76,205.95 2301.25,208.75 C2302.59,211.27 2304.47,215.27 2306.25,217.5 C2307.36,218.88 2309.48,221.25 2311.25,221.25 C2312.66,221.25 2313.92,218.78 2314.5,217.5 C2315.72,214.81 2316.48,210.28 2317.5,207.5 C2318.25,205.45 2318.87,201.62 2320.75,200.5 C2322.82,199.27 2329.25,200.50 2329.25,200.5 C2329.25,200.50 2329.25,170.00 2329.25,170 C2329.25,170.00 2331.03,164.29 2332.5,162.5 C2333.51,161.28 2335.93,159.78 2337.5,160 C2338.99,160.21 2340.32,162.57 2341.25,163.75 C2342.46,165.28 2343.62,168.12 2345,169.5 C2345.83,170.33 2347.60,171.48 2348.75,171.25 C2350.78,170.84 2353.23,168.56 2355,167.5 C2357.12,166.22 2360.20,163.92 2362.5,163 C2364.17,162.33 2366.96,162.14 2368.75,162 C2370.52,161.86 2375.00,162.00 2375,162 C2375.00,162.00 2375.00,127.50 2375,127.5 C2375.00,127.50 2376.35,120.18 2377.5,117.5 C2378.51,115.15 2380.84,111.94 2382.5,110 C2383.71,108.58 2385.92,106.74 2387.5,105.75 C2388.79,104.94 2392.50,103.75 2392.5,103.75" fill="none" stroke="#7b8a7c" stroke-width="3.9" stroke-linejoin="round" stroke-linecap="butt"/>
<path d="M48,870 H2401.3 V83.8" fill="none" stroke="#26333f" stroke-width="2.7" stroke-linejoin="round"/>
<line x1="245" x2="245" y1="870" y2="879.2" stroke="#26333f" stroke-width="2.2"/>
<text x="245.7" y="913.8" text-anchor="middle" class="ax" style="font-size:30.5px">Nov</text>
<line x1="634.3" x2="634.3" y1="870" y2="879.2" stroke="#26333f" stroke-width="2.2"/>
<text x="635.0" y="913.8" text-anchor="middle" class="ax" style="font-size:30.5px">Jan 25</text>
<line x1="1022" x2="1022" y1="870" y2="879.2" stroke="#26333f" stroke-width="2.2"/>
<text x="1022.7" y="913.8" text-anchor="middle" class="ax" style="font-size:30.5px">Mrz</text>
<line x1="1408.7" x2="1408.7" y1="870" y2="879.2" stroke="#26333f" stroke-width="2.2"/>
<text x="1409.4" y="913.8" text-anchor="middle" class="ax" style="font-size:30.5px">Mai</text>
<line x1="1797.3" x2="1797.3" y1="870" y2="879.2" stroke="#26333f" stroke-width="2.2"/>
<text x="1798.0" y="913.8" text-anchor="middle" class="ax" style="font-size:30.5px">Jul</text>
<line x1="2194.5" x2="2194.5" y1="870" y2="879.2" stroke="#26333f" stroke-width="2.2"/>
<text x="2195.2" y="913.8" text-anchor="middle" class="ax" style="font-size:30.5px">Sep</text>
<text x="2414" y="149.9" class="ax">3.800</text>
<text x="2414" y="252.8" class="ax">3.600</text>
<text x="2414" y="354.6" class="ax">3.400</text>
<text x="2414" y="457.3" class="ax">3.200</text>
<text x="2414" y="559.2" class="ax">3.000</text>
<text x="2414" y="662.2" class="ax">2.800</text>
<text x="2414" y="763.3" class="ax">2.600</text>
<text x="2414" y="866.5" class="ax">2.400</text>
<line x1="47.8" x2="2396.4" y1="1020.5" y2="1020.5" stroke="#b3bdc6" stroke-width="2.0" stroke-dasharray="12.4 5.57"/>
<line x1="47.8" x2="2396.4" y1="1052" y2="1052" stroke="#8996a0" stroke-width="2.2" stroke-dasharray="12.4 5.57"/>
<line x1="47.8" x2="2396.4" y1="1083.6" y2="1083.6" stroke="#b3bdc6" stroke-width="2.0" stroke-dasharray="12.4 5.57"/>
<path d="M48,1025.25 L65,1029 L73.75,1029 L75,1034 L83.75,1049 L92.5,1058.5 L100,1050.25 L111.25,1036 L118.75,1036 L120,1038.5 L126.25,1035.25 L145,1024.75 L151.25,1020.25 L157.5,1013.5 L163.75,1013.5 L167,1015.75 L176.25,1009 L181.25,1020.25 L184.5,1029.75 L192.5,1022 L200,1020.25 L211.25,1020.25 L210,1025.25 L215,1018.5 L218.75,1015.25 L227.5,1011.5 L231.25,1020.25 L236.25,1036 L245,1039.75 L253.75,1040.75 L254.5,1038.5 L257.5,1039.75 L265,1037.75 L270,1054 L274.25,1070.5 L283.75,1054.5 L291.25,1060.25 L298.75,1060.75 L301.25,1076.5 L305,1078.5 L315,1083.5 L320,1085.5 L327.5,1085.5 L337.5,1088.25 L346.25,1088.25 L346.75,1064 L355,1057 L365,1051.5 L375,1042.75 L382.5,1034 L391.25,1034 L391.75,1061.5 L400,1058.5 L417.5,1058.5 L427.5,1054 L433.75,1054 L437.5,1056.5 L445,1056 L453.75,1051 L462.5,1057.75 L470,1060.25 L481.25,1060.75 L481.75,1044 L490,1035.25 L498.75,1027.25 L507.5,1041.5 L517.5,1053.25 L526.25,1054 L533.75,1056.5 L544.5,1074.5 L553.75,1071.5 L562.5,1061 L570,1061 L572.5,1063.25 L580,1063.25 L588.75,1060.25 L597.5,1054.5 L605,1057.75 L615,1059 L616.25,1065.25 L625,1056.5 L625,1056.5 L633.75,1056 L643,1038.25 L651.25,1050.25 L660,1049 L661.25,1052 L680,1038.25 L687.5,1035.25 L696.25,1027 L705.5,1027 L706,1043 L716.25,1037 L732.5,1024.75 L742.5,1031.5 L750,1032 L751.25,1027.75 L758.75,1017.75 L768.75,1015.75 L777.5,1015.75 L787.5,1011 L795.75,1011 L796.25,1034.5 L803.75,1025.25 L808.75,1026 L813.75,1027.75 L822.5,1018.5 L841.25,1018.5 L842,1015.75 L852.5,1008.5 L860.5,1004.5 L869.5,1011 L885,1011 L887.5,1002.25 L896.25,1009 L905,1009 L914.5,1004.5 L920,1020.25 L923.75,1029.5 L932.5,1030.25 L937.5,1021 L941.25,1018.25 L950,1017.75 L958.75,1015.75 L967.5,1019.75 L977.5,1019.75 L977.5,1013.5 L980,1021.5 L986.25,1036 L995,1036 L1002.5,1051 L1012.5,1059.5 L1017.5,1061.5 L1022,1061.5 L1022.5,1049 L1031.25,1038.25 L1040,1037.75 L1056.25,1040.25 L1067,1040.25 L1067.5,1057.75 L1076.25,1041.5 L1085,1036 L1093.75,1022 L1111.25,1022 L1121.25,1014 L1130,1009 L1140,1013.5 L1145,1019.5 L1148.75,1024.75 L1156.25,1024.75 L1157,1032 L1165,1029.5 L1175,1029 L1182.5,1021.5 L1193.75,1013.5 L1202,1013.5 L1202.5,1004.5 L1211.25,1011.5 L1220,1007 L1230,1019.5 L1233.75,1036.5 L1237.5,1051.5 L1246.25,1051.5 L1247,1065.25 L1257,1065.25 L1260,1054 L1265,1036.5 L1273.75,1021 L1282.5,1015.75 L1292,1015.75 L1292.5,1024.75 L1301.25,1020.25 L1310,1009 L1319.5,1017.75 L1347.5,1017.75 L1357.5,1022 L1366.25,1015.75 L1372.5,1024 L1376.25,1027.25 L1382.5,1025.25 L1390,1029 L1402.5,1041.5 L1412.5,1050.25 L1426.25,1050.25 L1428.75,1031.5 L1437.5,1022.75 L1447.5,1031 L1455,1040.25 L1471.25,1040.25 L1473,1058.5 L1482.5,1054 L1492,1067.75 L1501.25,1054.5 L1510,1060.25 L1516.25,1061 L1517.5,1055.25 L1527.5,1042.75 L1536.25,1040.25 L1545,1044.5 L1555,1036 L1563,1036 L1565,1040.25 L1575,1049 L1581.25,1052 L1590,1045.25 L1600,1052 L1608,1052 L1608.75,1032 L1617.5,1040.25 L1627.5,1038.25 L1636.25,1040.75 L1645,1051.5 L1653,1052 L1653.75,1047.75 L1662.5,1049 L1671.25,1041 L1680,1036 L1688.75,1027.25 L1698,1027.25 L1698.75,1040.75 L1707.5,1040.75 L1716.25,1043.5 L1725,1047 L1735,1044.5 L1743,1044.5 L1743.75,1050.25 L1752.5,1060.75 L1761.25,1056.5 L1770,1060.75 L1780,1071.5 L1787.5,1072 L1788,1076 L1788.75,1057.75 L1797.5,1049 L1806.25,1042.75 L1815,1054 L1825,1051.5 L1832.5,1051.5 L1840,1058.5 L1842.5,1061.5 L1851.25,1054 L1860,1054.5 L1868.75,1045.25 L1877.5,1044.5 L1878,1041 L1878.75,1051 L1887.5,1054 L1896.25,1047 L1905,1052.75 L1915,1048.25 L1923.25,1048.25 L1925,1034 L1934.5,1027.25 L1942.5,1040.25 L1952.5,1047.75 L1960,1056 L1967.5,1056 L1969.5,1063.5 L1978.75,1059 L1988,1070.25 L1998.75,1065.25 L2006.25,1045.25 L2012.5,1044.5 L2013,1049 L2015,1042.75 L2025,1042.75 L2032.5,1044.5 L2041.25,1038.25 L2057.5,1038.25 L2059.5,1057 L2067.5,1054 L2077.5,1052 L2086.25,1060.75 L2105,1060.75 L2113.75,1067.75 L2122.5,1051.5 L2131.25,1054.5 L2140,1042.75 L2149.5,1042.75 L2150,1047.75 L2158.75,1036 L2167.5,1033.5 L2176.25,1029 L2185,1020.25 L2194.5,1020.25 L2195,1013.5 L2202.5,1005.25 L2212.5,1000.25 L2221.25,1011.5 L2231.25,1004.75 L2239.5,1004.75 L2240,1000.25 L2257.5,1000.25 L2266.25,1002.75 L2276.25,1000.25 L2283.75,1000.25 L2284.5,1002 L2285,997.25 L2293.25,995.25 L2302.5,1011.5 L2311.25,1021.5 L2320,1015.75 L2328.75,1015.75 L2329.25,1004.5 L2338,1002.25 L2347.5,1013.5 L2355,1013.5 L2365,1011.5 L2373.75,1011.5 L2374.5,1002.25 L2383.75,998.25 L2392.5,998.25" fill="none" stroke="#ffbcfd" stroke-width="1.8" stroke-linejoin="round"/>
<path d="M48,1025.25 L65,1029 L73.75,1029 L75,1034 L83.75,1049 L92.5,1058.5 L100,1050.25 L111.25,1036 L118.75,1036 L120,1038.5 L126.25,1035.25 L145,1024.75 L151.25,1020.25 L157.5,1013.5 L163.75,1013.5 L167,1015.75 L176.25,1009 L181.25,1020.25 L184.5,1029.75 L192.5,1022 L200,1020.25 L211.25,1020.25 L210,1025.25 L215,1018.5 L218.75,1015.25 L227.5,1011.5 L231.25,1020.25 L236.25,1036 L245,1039.75 L253.75,1040.75 L254.5,1038.5 L257.5,1039.75 L265,1037.75 L270,1054 L274.25,1070.5 L283.75,1054.5 L291.25,1060.25 L298.75,1060.75 L301.25,1076.5 L305,1078.5 L315,1083.5 L320,1085.5 L327.5,1085.5 L337.5,1088.25 L346.25,1088.25 L346.75,1064 L355,1057 L365,1051.5 L375,1042.75 L382.5,1034 L391.25,1034 L391.75,1061.5 L400,1058.5 L417.5,1058.5 L427.5,1054 L433.75,1054 L437.5,1056.5 L445,1056 L453.75,1051 L462.5,1057.75 L470,1060.25 L481.25,1060.75 L481.75,1044 L490,1035.25 L498.75,1027.25 L507.5,1041.5 L517.5,1053.25 L526.25,1054 L533.75,1056.5 L544.5,1074.5 L553.75,1071.5 L562.5,1061 L570,1061 L572.5,1063.25 L580,1063.25 L588.75,1060.25 L597.5,1054.5 L605,1057.75 L615,1059 L616.25,1065.25 L625,1056.5 L625,1056.5 L633.75,1056 L643,1038.25 L651.25,1050.25 L660,1049 L661.25,1052 L680,1038.25 L687.5,1035.25 L696.25,1027 L705.5,1027 L706,1043 L716.25,1037 L732.5,1024.75 L742.5,1031.5 L750,1032 L751.25,1027.75 L758.75,1017.75 L768.75,1015.75 L777.5,1015.75 L787.5,1011 L795.75,1011 L796.25,1034.5 L803.75,1025.25 L808.75,1026 L813.75,1027.75 L822.5,1018.5 L841.25,1018.5 L842,1015.75 L852.5,1008.5 L860.5,1004.5 L869.5,1011 L885,1011 L887.5,1002.25 L896.25,1009 L905,1009 L914.5,1004.5 L920,1020.25 L923.75,1029.5 L932.5,1030.25 L937.5,1021 L941.25,1018.25 L950,1017.75 L958.75,1015.75 L967.5,1019.75 L977.5,1019.75 L977.5,1013.5 L980,1021.5 L986.25,1036 L995,1036 L1002.5,1051 L1012.5,1059.5 L1017.5,1061.5 L1022,1061.5 L1022.5,1049 L1031.25,1038.25 L1040,1037.75 L1056.25,1040.25 L1067,1040.25 L1067.5,1057.75 L1076.25,1041.5 L1085,1036 L1093.75,1022 L1111.25,1022 L1121.25,1014 L1130,1009 L1140,1013.5 L1145,1019.5 L1148.75,1024.75 L1156.25,1024.75 L1157,1032 L1165,1029.5 L1175,1029 L1182.5,1021.5 L1193.75,1013.5 L1202,1013.5 L1202.5,1004.5 L1211.25,1011.5 L1220,1007 L1230,1019.5 L1233.75,1036.5 L1237.5,1051.5 L1246.25,1051.5 L1247,1065.25 L1257,1065.25 L1260,1054 L1265,1036.5 L1273.75,1021 L1282.5,1015.75 L1292,1015.75 L1292.5,1024.75 L1301.25,1020.25 L1310,1009 L1319.5,1017.75 L1347.5,1017.75 L1357.5,1022 L1366.25,1015.75 L1372.5,1024 L1376.25,1027.25 L1382.5,1025.25 L1390,1029 L1402.5,1041.5 L1412.5,1050.25 L1426.25,1050.25 L1428.75,1031.5 L1437.5,1022.75 L1447.5,1031 L1455,1040.25 L1471.25,1040.25 L1473,1058.5 L1482.5,1054 L1492,1067.75 L1501.25,1054.5 L1510,1060.25 L1516.25,1061 L1517.5,1055.25 L1527.5,1042.75 L1536.25,1040.25 L1545,1044.5 L1555,1036 L1563,1036 L1565,1040.25 L1575,1049 L1581.25,1052 L1590,1045.25 L1600,1052 L1608,1052 L1608.75,1032 L1617.5,1040.25 L1627.5,1038.25 L1636.25,1040.75 L1645,1051.5 L1653,1052 L1653.75,1047.75 L1662.5,1049 L1671.25,1041 L1680,1036 L1688.75,1027.25 L1698,1027.25 L1698.75,1040.75 L1707.5,1040.75 L1716.25,1043.5 L1725,1047 L1735,1044.5 L1743,1044.5 L1743.75,1050.25 L1752.5,1060.75 L1761.25,1056.5 L1770,1060.75 L1780,1071.5 L1787.5,1072 L1788,1076 L1788.75,1057.75 L1797.5,1049 L1806.25,1042.75 L1815,1054 L1825,1051.5 L1832.5,1051.5 L1840,1058.5 L1842.5,1061.5 L1851.25,1054 L1860,1054.5 L1868.75,1045.25 L1877.5,1044.5 L1878,1041 L1878.75,1051 L1887.5,1054 L1896.25,1047 L1905,1052.75 L1915,1048.25 L1923.25,1048.25 L1925,1034 L1934.5,1027.25 L1942.5,1040.25 L1952.5,1047.75 L1960,1056 L1967.5,1056 L1969.5,1063.5 L1978.75,1059 L1988,1070.25 L1998.75,1065.25 L2006.25,1045.25 L2012.5,1044.5 L2013,1049 L2015,1042.75 L2025,1042.75 L2032.5,1044.5 L2041.25,1038.25 L2057.5,1038.25 L2059.5,1057 L2067.5,1054 L2077.5,1052 L2086.25,1060.75 L2105,1060.75 L2113.75,1067.75 L2122.5,1051.5 L2131.25,1054.5 L2140,1042.75 L2149.5,1042.75 L2150,1047.75 L2158.75,1036 L2167.5,1033.5 L2176.25,1029 L2185,1020.25 L2194.5,1020.25 L2195,1013.5 L2202.5,1005.25 L2212.5,1000.25 L2221.25,1011.5 L2231.25,1004.75 L2239.5,1004.75 L2240,1000.25 L2257.5,1000.25 L2266.25,1002.75 L2276.25,1000.25 L2283.75,1000.25 L2284.5,1002 L2285,997.25 L2293.25,995.25 L2302.5,1011.5 L2311.25,1021.5 L2320,1015.75 L2328.75,1015.75 L2329.25,1004.5 L2338,1002.25 L2347.5,1013.5 L2355,1013.5 L2365,1011.5 L2373.75,1011.5 L2374.5,1002.25 L2383.75,998.25 L2392.5,998.25" fill="none" stroke="#b510b0" stroke-width="2.2" stroke-linejoin="round" clip-path="url(#hi)"/>
<path d="M48,1025.25 L65,1029 L73.75,1029 L75,1034 L83.75,1049 L92.5,1058.5 L100,1050.25 L111.25,1036 L118.75,1036 L120,1038.5 L126.25,1035.25 L145,1024.75 L151.25,1020.25 L157.5,1013.5 L163.75,1013.5 L167,1015.75 L176.25,1009 L181.25,1020.25 L184.5,1029.75 L192.5,1022 L200,1020.25 L211.25,1020.25 L210,1025.25 L215,1018.5 L218.75,1015.25 L227.5,1011.5 L231.25,1020.25 L236.25,1036 L245,1039.75 L253.75,1040.75 L254.5,1038.5 L257.5,1039.75 L265,1037.75 L270,1054 L274.25,1070.5 L283.75,1054.5 L291.25,1060.25 L298.75,1060.75 L301.25,1076.5 L305,1078.5 L315,1083.5 L320,1085.5 L327.5,1085.5 L337.5,1088.25 L346.25,1088.25 L346.75,1064 L355,1057 L365,1051.5 L375,1042.75 L382.5,1034 L391.25,1034 L391.75,1061.5 L400,1058.5 L417.5,1058.5 L427.5,1054 L433.75,1054 L437.5,1056.5 L445,1056 L453.75,1051 L462.5,1057.75 L470,1060.25 L481.25,1060.75 L481.75,1044 L490,1035.25 L498.75,1027.25 L507.5,1041.5 L517.5,1053.25 L526.25,1054 L533.75,1056.5 L544.5,1074.5 L553.75,1071.5 L562.5,1061 L570,1061 L572.5,1063.25 L580,1063.25 L588.75,1060.25 L597.5,1054.5 L605,1057.75 L615,1059 L616.25,1065.25 L625,1056.5 L625,1056.5 L633.75,1056 L643,1038.25 L651.25,1050.25 L660,1049 L661.25,1052 L680,1038.25 L687.5,1035.25 L696.25,1027 L705.5,1027 L706,1043 L716.25,1037 L732.5,1024.75 L742.5,1031.5 L750,1032 L751.25,1027.75 L758.75,1017.75 L768.75,1015.75 L777.5,1015.75 L787.5,1011 L795.75,1011 L796.25,1034.5 L803.75,1025.25 L808.75,1026 L813.75,1027.75 L822.5,1018.5 L841.25,1018.5 L842,1015.75 L852.5,1008.5 L860.5,1004.5 L869.5,1011 L885,1011 L887.5,1002.25 L896.25,1009 L905,1009 L914.5,1004.5 L920,1020.25 L923.75,1029.5 L932.5,1030.25 L937.5,1021 L941.25,1018.25 L950,1017.75 L958.75,1015.75 L967.5,1019.75 L977.5,1019.75 L977.5,1013.5 L980,1021.5 L986.25,1036 L995,1036 L1002.5,1051 L1012.5,1059.5 L1017.5,1061.5 L1022,1061.5 L1022.5,1049 L1031.25,1038.25 L1040,1037.75 L1056.25,1040.25 L1067,1040.25 L1067.5,1057.75 L1076.25,1041.5 L1085,1036 L1093.75,1022 L1111.25,1022 L1121.25,1014 L1130,1009 L1140,1013.5 L1145,1019.5 L1148.75,1024.75 L1156.25,1024.75 L1157,1032 L1165,1029.5 L1175,1029 L1182.5,1021.5 L1193.75,1013.5 L1202,1013.5 L1202.5,1004.5 L1211.25,1011.5 L1220,1007 L1230,1019.5 L1233.75,1036.5 L1237.5,1051.5 L1246.25,1051.5 L1247,1065.25 L1257,1065.25 L1260,1054 L1265,1036.5 L1273.75,1021 L1282.5,1015.75 L1292,1015.75 L1292.5,1024.75 L1301.25,1020.25 L1310,1009 L1319.5,1017.75 L1347.5,1017.75 L1357.5,1022 L1366.25,1015.75 L1372.5,1024 L1376.25,1027.25 L1382.5,1025.25 L1390,1029 L1402.5,1041.5 L1412.5,1050.25 L1426.25,1050.25 L1428.75,1031.5 L1437.5,1022.75 L1447.5,1031 L1455,1040.25 L1471.25,1040.25 L1473,1058.5 L1482.5,1054 L1492,1067.75 L1501.25,1054.5 L1510,1060.25 L1516.25,1061 L1517.5,1055.25 L1527.5,1042.75 L1536.25,1040.25 L1545,1044.5 L1555,1036 L1563,1036 L1565,1040.25 L1575,1049 L1581.25,1052 L1590,1045.25 L1600,1052 L1608,1052 L1608.75,1032 L1617.5,1040.25 L1627.5,1038.25 L1636.25,1040.75 L1645,1051.5 L1653,1052 L1653.75,1047.75 L1662.5,1049 L1671.25,1041 L1680,1036 L1688.75,1027.25 L1698,1027.25 L1698.75,1040.75 L1707.5,1040.75 L1716.25,1043.5 L1725,1047 L1735,1044.5 L1743,1044.5 L1743.75,1050.25 L1752.5,1060.75 L1761.25,1056.5 L1770,1060.75 L1780,1071.5 L1787.5,1072 L1788,1076 L1788.75,1057.75 L1797.5,1049 L1806.25,1042.75 L1815,1054 L1825,1051.5 L1832.5,1051.5 L1840,1058.5 L1842.5,1061.5 L1851.25,1054 L1860,1054.5 L1868.75,1045.25 L1877.5,1044.5 L1878,1041 L1878.75,1051 L1887.5,1054 L1896.25,1047 L1905,1052.75 L1915,1048.25 L1923.25,1048.25 L1925,1034 L1934.5,1027.25 L1942.5,1040.25 L1952.5,1047.75 L1960,1056 L1967.5,1056 L1969.5,1063.5 L1978.75,1059 L1988,1070.25 L1998.75,1065.25 L2006.25,1045.25 L2012.5,1044.5 L2013,1049 L2015,1042.75 L2025,1042.75 L2032.5,1044.5 L2041.25,1038.25 L2057.5,1038.25 L2059.5,1057 L2067.5,1054 L2077.5,1052 L2086.25,1060.75 L2105,1060.75 L2113.75,1067.75 L2122.5,1051.5 L2131.25,1054.5 L2140,1042.75 L2149.5,1042.75 L2150,1047.75 L2158.75,1036 L2167.5,1033.5 L2176.25,1029 L2185,1020.25 L2194.5,1020.25 L2195,1013.5 L2202.5,1005.25 L2212.5,1000.25 L2221.25,1011.5 L2231.25,1004.75 L2239.5,1004.75 L2240,1000.25 L2257.5,1000.25 L2266.25,1002.75 L2276.25,1000.25 L2283.75,1000.25 L2284.5,1002 L2285,997.25 L2293.25,995.25 L2302.5,1011.5 L2311.25,1021.5 L2320,1015.75 L2328.75,1015.75 L2329.25,1004.5 L2338,1002.25 L2347.5,1013.5 L2355,1013.5 L2365,1011.5 L2373.75,1011.5 L2374.5,1002.25 L2383.75,998.25 L2392.5,998.25" fill="none" stroke="#b510b0" stroke-width="2.2" stroke-linejoin="round" clip-path="url(#lo)"/>
<path d="M48,1141.3 H2401.3 V962.5" fill="none" stroke="#26333f" stroke-width="2.7" stroke-linejoin="round"/>
<line x1="2401" x2="2410.5" y1="973.3" y2="973.3" stroke="#26333f" stroke-width="2.2"/>
<text x="2423.5" y="984.1" class="ax">100</text>
<line x1="2401" x2="2410.5" y1="1051.6" y2="1051.6" stroke="#26333f" stroke-width="2.2"/>
<text x="2423.5" y="1062.4" class="ax">50</text>
<line x1="2401" x2="2410.5" y1="1130" y2="1130" stroke="#26333f" stroke-width="2.2"/>
<text x="2423.5" y="1140.8" class="ax">0</text>
<g id="logo" opacity="0.95">
<path d="M1981.9,825.2 C1984,823.5 1987,823 1989.6,822.4 C1992,819.5 1996,817.6 1999.8,817.8 C2003,817.9 2005.4,818.8 2006.8,820.6 C2008.8,823.5 2009.5,828 2009.6,831.6 C2009.7,835.5 2010.1,839.5 2010.6,843.6 L2006.5,843.6 L2005.8,838.2 C2004.8,839 2003.6,839.4 2002.5,839.6 L2000.6,844.9 L1997.1,844.9 L1996.5,840.9 C1995.3,840.9 1994.2,840.6 1993.2,840.2 L1992.5,843.6 L1988.5,843.6 L1989.2,836.9 C1987.6,836.4 1986.2,835.5 1985.2,834.2 C1984,834.8 1983.1,835.8 1982.6,836.9 L1981.9,843.6 L1977.8,843.6 L1979.9,834.2 C1980.3,832.2 1981,830.4 1981.9,828.9 Z" fill="#e89a7d"/>
<path d="M1986.8,824.2 C1983,823.3 1978,824.4 1976.9,826.6 C1976,828.6 1979.5,829.2 1983,828.4" fill="none" stroke="#e89a7d" stroke-width="1.5" stroke-linecap="round"/>
<path d="M1993.6,827.4 C1993.2,836.4 2002.6,836.4 2002.3,827.4" fill="none" stroke="#fdf1ec" stroke-width="1.5"/>
<text x="2017.6" y="843.9" font-family="'Liberation Sans',sans-serif" font-weight="bold" font-size="29" fill="#70a0a2" textLength="92.6" lengthAdjust="spacingAndGlyphs">GOYAX</text>
<circle cx="2108.1" cy="822.9" r="2.4" fill="#e89a7d"/>
</g>
<rect x="58.7" y="101.60000000000001" width="33.2" height="32.8" rx="4.5" fill="#fff" stroke="#41464e" stroke-width="2.4"/>
<path d="M66.9,117.5 L74.4,124.4 L83.8,112.5" fill="none" stroke="#33373e" stroke-width="3" stroke-linecap="butt" stroke-linejoin="miter"/>
<rect x="58.7" y="148.79999999999998" width="33.2" height="32.8" rx="4.5" fill="#fff" stroke="#41464e" stroke-width="2.4"/>
<path d="M66.9,164.7 L74.4,171.6 L83.8,159.7" fill="none" stroke="#33373e" stroke-width="3" stroke-linecap="butt" stroke-linejoin="miter"/>
<text x="24.6" y="35.6" class="h" style="font-size:33.75px" fill="#1b2a3b">Zeitraum: 02.10.2024 - 02.10.2025</text>
<text x="57.2" y="81.9" class="h" fill="#7b8a7c">Gold Feinunze</text>
<text x="101.6" y="127" class="h" fill="#1f77b4">EMA(50)</text>
<text x="101.6" y="173.6" class="h" fill="#ff7f0e">EMA(200)</text>
<text x="55.9" y="964" class="h" fill="#4682b4">RSI(14): <tspan fill="#000">59,89</tspan></text>
</svg>
</body></html>
